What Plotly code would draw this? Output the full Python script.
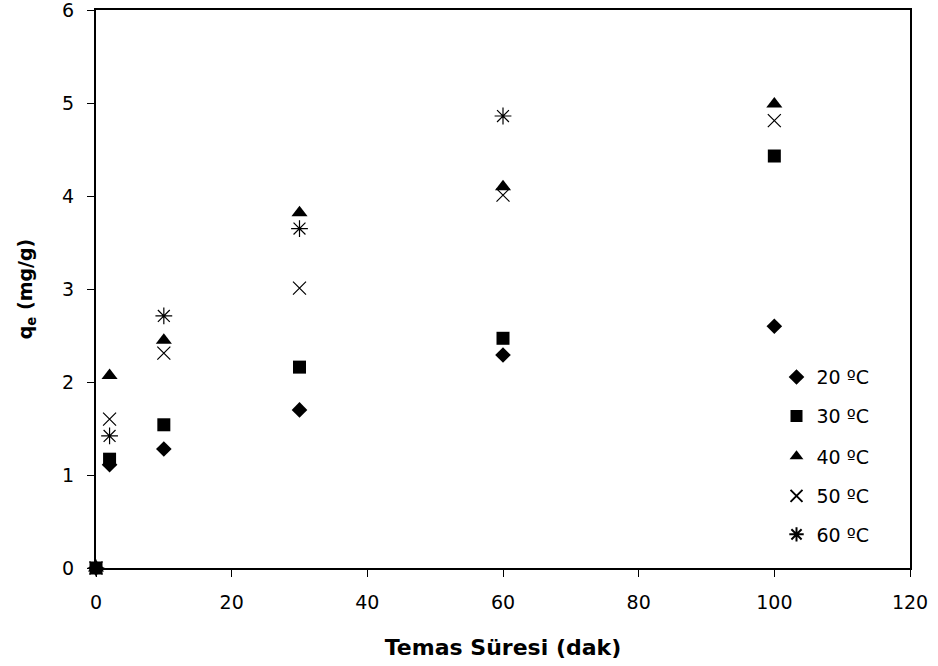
import plotly.graph_objects as go

time_min = [0, 2, 10, 30, 60, 100]
q20 = [0, 1.11, 1.28, 1.70, 2.29, 2.60]
q30 = [0, 1.17, 1.54, 2.16, 2.47, 4.43]
q40 = [0, 2.07, 2.45, 3.82, 4.10, 4.99]
q50 = [0, 1.60, 2.31, 3.01, 4.01, 4.81]
q60 = [0, 1.42, 2.71, 3.65, 4.86, None]
series_names = ["20 ºC", "30 ºC", "40 ºC", "50 ºC", "60 ºC"]

markers = [
    dict(symbol="diamond", size=12, color="black"),
    dict(symbol="square", size=13, color="black"),
    dict(symbol="triangle-up", size=14, color="black"),
    dict(symbol="x-thin-open", size=13, color="black", line=dict(color="#555555", width=1.2)),
    dict(symbol="asterisk-open", size=14, color="black", line=dict(color="#333333", width=1.2)),
]

FONT = "DejaVu Sans, Arial"
fig = go.Figure()
legend_ys = [0.342, 0.272, 0.2, 0.129, 0.06]
layout_legends = {}
for i, (name, ys, mk) in enumerate(zip(series_names, [q20, q30, q40, q50, q60], markers)):
    lg = "legend" if i == 0 else f"legend{i+1}"
    fig.add_trace(go.Scatter(x=time_min, y=ys, mode="markers", name=name, marker=mk,
                             legend=lg, showlegend=True, cliponaxis=False))
    layout_legends[lg] = dict(x=0.836, y=legend_ys[i], xanchor="left", yanchor="middle",
                              bgcolor="rgba(0,0,0,0)", font=dict(family=FONT, size=19, color="black"),
                              itemsizing="constant", itemwidth=30)

axis_common = dict(showgrid=False, zeroline=False, showline=True, linecolor="black",
                   linewidth=2, mirror=True, ticks="outside", ticklen=7,
                   tickcolor="black", tickwidth=1, ticklabelstandoff=9,
                   ticklabeloverflow="allow",
                   tickfont=dict(family=FONT, size=19, color="black"))

fig.update_layout(
    width=938, height=666,
    showlegend=True,
    paper_bgcolor="white", plot_bgcolor="white",
    margin=dict(l=96, r=28, t=10, b=98, autoexpand=False),
    font=dict(family=FONT, color="black"),
    xaxis=dict(range=[0, 120], dtick=20,
               title=dict(text="<b>Temas Süresi (dak)</b>", font=dict(family=FONT, size=22), standoff=28),
               **axis_common),
    yaxis=dict(range=[0, 6], dtick=1,
               title=dict(text="<b>q<sub>e</sub> (mg/g)</b>", font=dict(family=FONT, size=19), standoff=24),
               **axis_common),
    **layout_legends,
)

fig.write_html("out.html", config={"displayModeBar": False})

with open("out.html", "r", encoding="utf-8") as f:
    html = f.read()
html = html.replace("<head>", "<head><style>html,body{margin:0;padding:0;}</style>", 1)
with open("out.html", "w", encoding="utf-8") as f:
    f.write(html)
